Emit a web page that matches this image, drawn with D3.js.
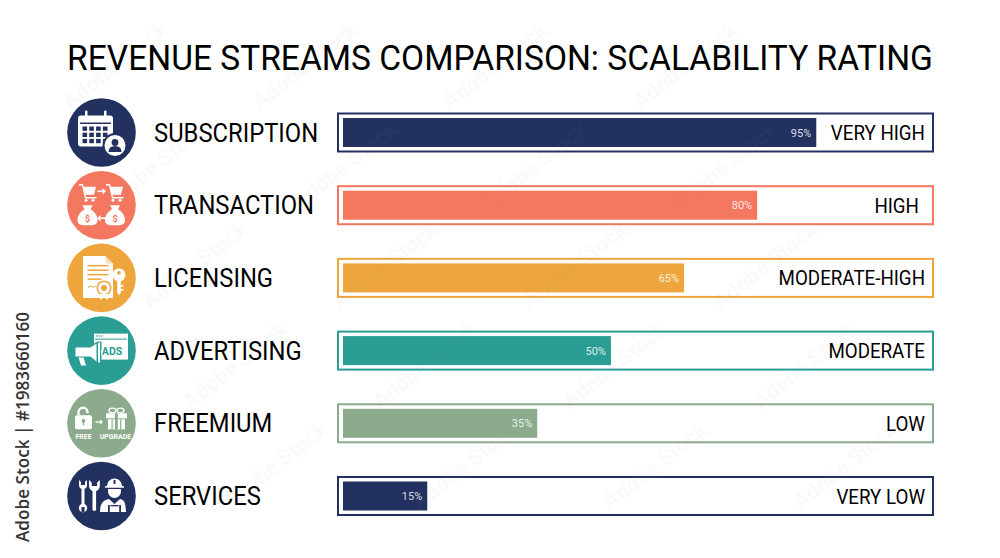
<!DOCTYPE html>
<html><head><meta charset="utf-8">
<script src="https://d3js.org/d3.v7.min.js"></script>
<style>html,body{margin:0;padding:0;background:#fff}svg{display:block}text{font-family:Roboto,sans-serif}</style>
</head><body><div id="c"></div>
<script>
const categories=["SUBSCRIPTION","TRANSACTION","LICENSING","ADVERTISING","FREEMIUM","SERVICES"];
const percentValues=[95,80,65,50,35,15];
// drawn length of each bar as a share of the track
const barLengths=[80.9,70.8,58.3,45.8,33.2,14.4];
const ratings=["VERY HIGH","HIGH","MODERATE-HIGH","MODERATE","LOW","VERY LOW"];
const colors=["#22315f","#f4775f","#eea63c","#2a9d94","#8cab8c","#22315f"];
const iconKinds=["calendar","cart","license","ads","gift","tools"];
const ratingRightInset=[8,14,8,8,8,8];

function rect(g,x,y,w,h,r,fill){return g.append("rect").attr("x",x).attr("y",y).attr("width",w).attr("height",h).attr("rx",r||0).attr("fill",fill||"#fff");}
function path(g,dp,fill){return g.append("path").attr("d",dp).attr("fill",fill||"#fff");}
function line(g,dp,w,col){return g.append("path").attr("d",dp).attr("fill","none").attr("stroke",col||"#fff").attr("stroke-width",w||1.5);}
function txt(g,x,y,s,size,fill,weight){return g.append("text").attr("x",x).attr("y",y).attr("text-anchor","middle").attr("font-size",size).attr("font-weight",weight||700).attr("fill",fill||"#fff").text(s);}
function person(g,c,cx,cy){
  g.append("circle").attr("cx",cx).attr("cy",cy).attr("r",10.5).attr("fill","#fff");
  g.append("circle").attr("cx",cx).attr("cy",cy-3).attr("r",3.4).attr("fill",c);
  path(g,`M${cx-6.5} ${cy+6.5}q0-6 6.5-6q6.5 0 6.5 6z`,c);
}
function bag(g,c,cx,cy,sign){
  path(g,`M${cx-3} ${cy-7}l-2-4h10l-2 4c5 3 7 7 7 11c0 4-3 5-7 5h-6c-4 0-7-1-7-5c0-4 2-8 7-11z`);
  txt(g,cx,cy+6,sign,9,c);
}
function cartIcon(g,c,cx,cy){
  line(g,`M${cx-8} ${cy-8}h3.5l3 13h11`,1.4);
  path(g,`M${cx-3.5} ${cy-6}L${cx+9} ${cy-6}L${cx+7} ${cy+2}L${cx-2} ${cy+2}z`);
  g.append("circle").attr("cx",cx-1).attr("cy",cy+7.5).attr("r",1.5);
  g.append("circle").attr("cx",cx+6).attr("cy",cy+7.5).attr("r",1.5);
}
const draw={
 calendar(g,c){
  rect(g,-23.5,-17,35,31,3);
  rect(g,-21.5,-10,31,1.5,0,c);
  rect(g,-16.5,-22,2.5,8,1); rect(g,2.5,-22,2.5,8,1);
  d3.range(3).forEach(r=>d3.range(4).forEach(k=>rect(g,-19+k*6.8,-6+r*6.2,4.6,4.3,0,c)));
  g.append("circle").attr("cx",13.5).attr("cy",13).attr("r",12.5).attr("fill",c);
  person(g,c,13.5,13);
 },
 cart(g,c){
  cartIcon(g,c,-14.5,-12.5);
  cartIcon(g,c,12.5,-12.5);
  rect(g,-4,-14.8,5,1.6); path(g,"M1 -17.2l3.5 3.2l-3.5 3.2z");
  bag(g,c,-14,11,"$"); bag(g,c,13.5,11,"$");
  rect(g,-1,12.2,5,1.6); path(g,"M-1 9.8l-3.5 3.2l3.5 3.2z");
 },
 license(g,c){
  path(g,"M-18.5 -22H4L11.5 -14.5V20H-18.5z");
  path(g,"M4 -22V-14.5H11.5z",c).attr("fill-opacity",.35);
  [-13,-8.5,-4,0.5].forEach((yy,i)=>rect(g,-14,yy,i==3?14:21,1.5,0,c));
  line(g,"M-14 10l3-2l2 1.5l3-1.5",1,c);
  g.append("circle").attr("cx",2.5).attr("cy",10).attr("r",7.5).attr("fill",c);
  g.append("circle").attr("cx",2.5).attr("cy",10).attr("r",6);
  g.append("circle").attr("cx",2.5).attr("cy",10).attr("r",3).attr("fill",c);
  path(g,"M-1.5 16v6l4-2.5l4 2.5v-6z");
  g.append("circle").attr("cx",17.5).attr("cy",-3).attr("r",6.5);
  g.append("circle").attr("cx",17.5).attr("cy",-5).attr("r",1.8).attr("fill",c);
  path(g,"M15.7 2h3.6v13l-1.8 2l-1.8-2z");
  rect(g,19.3,7,2.6,1.8); rect(g,19.3,11,2.6,1.8);
 },
 ads(g,c){
  rect(g,-7.5,-17,34,26);
  rect(g,-6.5,-12,32,1,0,c);
  [-4.5,-2,.5].forEach(k=>g.append("circle").attr("cx",k).attr("cy",-14.6).attr("r",.8).attr("fill",c));
  txt(g,10.5,4,"ADS",10.5,c);
  path(g,"M-4 -9L0 -9V13L-4 13L-11 8H-30V-5H-11z",c);
  path(g,"M-5 -7V11L-11 6H-26V-3H-11z");
  path(g,"M-3.5 -7.5L-1.5 -8.5V12.5L-3.5 11.5z");
  path(g,"M-.5 -1q3.5 3 0 6z");
  path(g,"M-23 7h5l2.5 8h-5z");
 },
 gift(g,c){
  rect(g,-26.5,-8,17,14,2);
  line(g,"M-23 -8v-3a4.5 4.5 0 0 1 9 0v1",2.4);
  g.append("circle").attr("cx",-18).attr("cy",-2.5).attr("r",1.9).attr("fill",c);
  rect(g,-18.7,-2.5,1.4,4.5,0,c);
  rect(g,-6,-2,5,1.4); path(g,"M-1.5 -4l3 2.7l-3 2.7z");
  rect(g,4.5,-10,21,5); rect(g,6.5,-4,17,10);
  rect(g,13.5,-10,2.8,16,0,c);
  rect(g,10,-4,1.2,10,0,c); rect(g,18.6,-4,1.2,10,0,c);
  g.append("ellipse").attr("cx",11).attr("cy",-12.8).attr("rx",3.5).attr("ry",2.3).attr("fill","none").attr("stroke","#fff").attr("stroke-width",1.3);
  g.append("ellipse").attr("cx",19).attr("cy",-12.8).attr("rx",3.5).attr("ry",2.3).attr("fill","none").attr("stroke","#fff").attr("stroke-width",1.3);
  txt(g,-18,15.5,"FREE",7,"#fff");
  txt(g,14,15.5,"UPGRADE",7,"#fff");
 },
 tools(g,c){
  // screwdriver-style wrench
  rect(g,-20,-10,3,22,1.2);
  path(g,"M-22.5 -16v5a4 4 0 0 0 8 0v-5l-2 2v3h-4v-3z");
  g.append("circle").attr("cx",-18.5).attr("cy",12).attr("r",4.2);
  rect(g,-20,11,3,5,0,c);
  // wrench
  rect(g,-9,-8,3.6,23,1.8);
  path(g,"M-12.5 -16v6a5.4 5.4 0 0 0 10.8 0v-6l-2.7 2.5v3.5h-5.4v-3.5z");
  // worker
  path(g,"M5.5 -10a7.5 7.5 0 0 1 15 0z");
  rect(g,3.5,-10,19,1.8,.9);
  rect(g,12,-16,2,4,0,c);
  path(g,"M6.5 -7h13v2.5a6.5 6.5 0 0 1-13 0z");
  path(g,"M-1.5 16c0-9 3.5-12 9-13l5.5 5l5.5-5c5.5 1 5.5 6 6 13z");
  rect(g,6.5,9,1.8,7,0,c); rect(g,17.7,9,1.8,7,0,c);
  rect(g,9,9,8,1.3,0,c);
 }
};

const W=1000,H=558;
const svg=d3.select("#c").append("svg").attr("width",W).attr("height",H).attr("viewBox",[0,0,W,H]);
const y=d3.scalePoint().domain(categories).range([132.5,496]);
const x=d3.scaleLinear().domain([0,100]).range([343,928]);

svg.append("text").attr("transform","translate(500,70) scale(.942,1)").attr("text-anchor","middle").attr("font-size",35.6).attr("fill","#000").text("REVENUE STREAMS COMPARISON: SCALABILITY RATING");
svg.append("text").attr("transform","translate(29,542) rotate(-90)").attr("font-size",17.5).attr("font-weight",600).attr("fill","#333").attr("style","font-family:'Open Sans'").attr("textLength",230).attr("lengthAdjust","spacingAndGlyphs").text("Adobe Stock | #1983660160");

const rows=svg.selectAll("g.row").data(categories).join("g").attr("class","row").attr("transform",d=>`translate(0,${y(d)})`);
rows.append("text").attr("transform","translate(154,9) scale(.937,1)").attr("font-size",25.4).attr("fill","#000").text(d=>d);
rows.append("rect").attr("x",338).attr("y",-19).attr("width",595).attr("height",38).attr("fill","#fff").attr("stroke",(d,i)=>colors[i]).attr("stroke-width",2);
rows.append("rect").attr("x",x(0)).attr("y",-14.5).attr("height",29).attr("width",(d,i)=>x(barLengths[i])-x(0)).attr("fill",(d,i)=>colors[i]);
rows.append("text").attr("x",(d,i)=>x(barLengths[i])-5).attr("y",4).attr("text-anchor","end").attr("font-size",11).attr("fill","#fff").attr("fill-opacity",.85).text((d,i)=>percentValues[i]+"%");
rows.append("text").attr("transform",(d,i)=>`translate(${933-ratingRightInset[i]},7.5) scale(.915,1)`).attr("text-anchor","end").attr("font-size",20.5).attr("fill","#000").text((d,i)=>ratings[i]);

const icons=rows.append("g").attr("transform","translate(101.5,0)");
icons.append("circle").attr("r",34.3).attr("fill",(d,i)=>colors[i]);
icons.each(function(d,i){ draw[iconKinds[i]](d3.select(this).append("g").attr("fill","#fff"),colors[i]); });

// faint watermark, above the chart as in the reference; only marks that fit in the frame are kept
const wm=svg.append("g").attr("fill","#999").attr("opacity",0.05).attr("font-size",22).attr("font-weight",700);
d3.range(0,5).forEach(i=>d3.range(0,5).forEach(j=>{
  const px=i*190+j*40+70, py=j*100+110;
  if(px<960-130&&py<540) wm.append("text").attr("transform",`translate(${px},${py}) rotate(-38)`).text("Adobe Stock");
}));
</script></body></html>
